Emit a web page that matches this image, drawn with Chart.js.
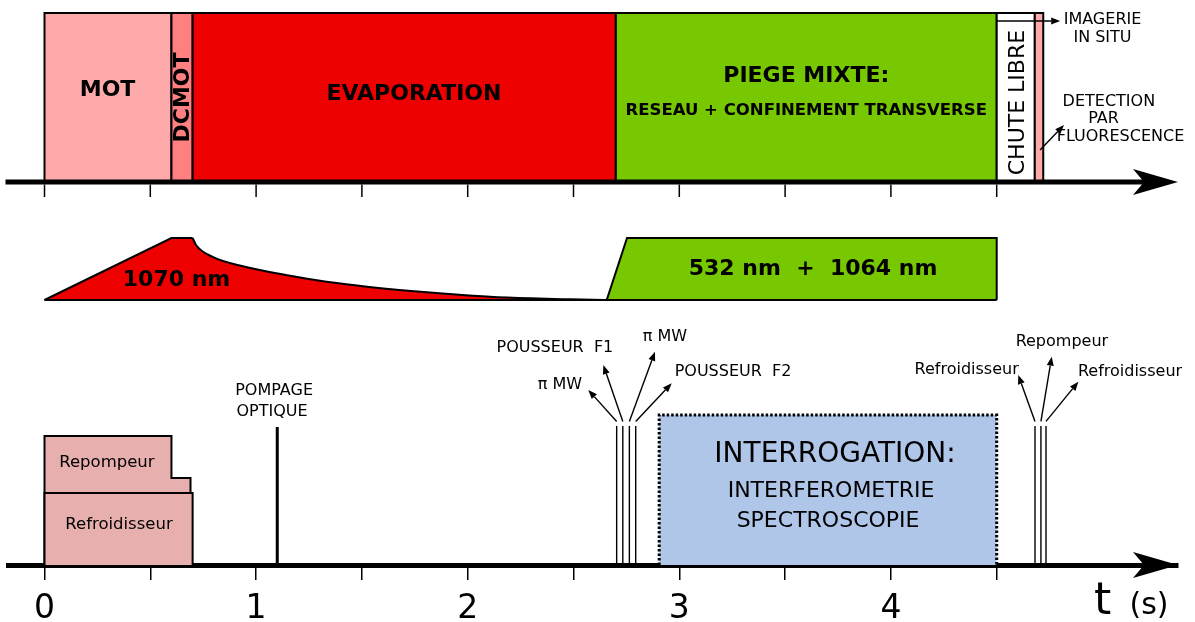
<!DOCTYPE html>
<html lang="fr">
<head>
<meta charset="UTF-8">
<title>Séquence expérimentale</title>
<style>
  body { margin: 0; background: #fff; }
  #wrap { width: 1195px; height: 622px; }
</style>
</head>
<body>
<div id="wrap"><canvas id="seq" width="1195" height="622"></canvas></div>
<script src="https://cdn.jsdelivr.net/npm/chart.js"></script>
<script>
// ---- données (temps en s) ----
const tickValues = [0, 0.5, 1, 1.5, 2, 2.5, 3, 3.5, 4, 4.5];
const tickLabels = ['0', '', '1', '', '2', '', '3', '', '4', ''];

// phases de la séquence
const phaseNames = ['MOT', 'DCMOT', 'EVAPORATION', 'PIEGE MIXTE', 'CHUTE LIBRE', 'DETECTION'];
const phaseStart = [0, 0.6, 0.7, 2.7, 4.5, 4.68];
const phaseEnd = [0.6, 0.7, 2.7, 4.5, 4.68, 4.72];

// puissance relative des lasers de piégeage
const rampT = [0, 0.6, 0.7];
const rampP = [0, 1, 1];
const evapT = [0.7, 0.716, 0.792, 0.947, 1.14, 1.333, 1.524, 1.718, 1.912, 2.105, 2.297, 2.488, 2.645];
const evapP = [1, 0.887, 0.699, 0.537, 0.403, 0.295, 0.215, 0.15, 0.097, 0.053, 0.027, 0.011, 0];
const mixT = [2.657, 2.753, 4.5, 4.5];
const mixP = [0, 1, 1, 0];

// faisceaux du MOT (niveaux relatifs)
const coolT = [0, 0.7];
const coolLevel = [0.558];
const repumpT = [0, 0.6, 0.69];
const repumpLevel = [1, 0.674];

// impulsions
const pumpT = 1.1;
const pulseLeftT = [2.704, 2.733, 2.764, 2.794];
const pulseLeftNames = ['π MW', 'POUSSEUR  F1', 'π MW', 'POUSSEUR  F2'];
const pulseRightT = [4.681, 4.709, 4.733];
const pulseRightNames = ['Refroidisseur', 'Repompeur', 'Refroidisseur'];
const interroT = [2.905, 4.5];

// ---- mise en page ----
const FONT = "'DejaVu Sans', sans-serif";
const H = 565; // axe du temps, bas de la zone de tracé
function band(zeroPx, onePx) {
  const k = zeroPx - onePx;
  return { min: (zeroPx - H) / k, max: zeroPx / k };
}
const phaseColors = ['#ffaaaa', '#ff8080', '#ee0000', '#77c800', '#ffffff', '#ffaaaa'];
const levels = { pulse: 1.078, pump: 1.07, interro: 1.163 };

// positions des textes et des flèches
const pulseLeftLabels = [[2.436, 1.395], [2.412, 1.682], [2.932, 1.77], [3.254, 1.496]];
const pulseLeftTips = [[2.570, 1.357], [2.641, 1.550], [2.885, 1.653], [2.964, 1.409]];
const pulseRightLabels = [[4.358, 1.512], [4.808, 1.731], [5.13, 1.496]];
const pulseRightTips = [[4.602, 1.473], [4.76, 1.615], [4.886, 1.421]];

const notes = [
  { text: 'MOT', t: 0.298, v: 0.54, row: 'yTop', size: 22, bold: true },
  { text: 'DCMOT', t: 0.655, v: 0.5, row: 'yTop', size: 22, bold: true, rot: true },
  { text: 'EVAPORATION', t: 1.746, v: 0.52, row: 'yTop', size: 22, bold: true },
  { text: 'PIEGE MIXTE:', t: 3.6, v: 0.627, row: 'yTop', size: 22, bold: true },
  { text: 'RESEAU + CONFINEMENT TRANSVERSE', t: 3.6, v: 0.42, row: 'yTop', size: 16.5, bold: true },
  { text: 'CHUTE LIBRE', t: 4.6, v: 0.47, row: 'yTop', size: 22, rot: true },
  { text: 'IMAGERIE', t: 5.0, v: 0.959, row: 'yTop', size: 16 },
  { text: 'IN SITU', t: 5.0, v: 0.852, row: 'yTop', size: 16 },
  { text: 'DETECTION', t: 5.03, v: 0.473, row: 'yTop', size: 16 },
  { text: 'PAR', t: 5.005, v: 0.373, row: 'yTop', size: 16 },
  { text: 'FLUORESCENCE', t: 5.085, v: 0.266, row: 'yTop', size: 16 },
  { text: '1070 nm', t: 0.624, v: 0.323, row: 'yMid', size: 22, bold: true },
  { text: '532 nm  +  1064 nm', t: 3.632, v: 0.5, row: 'yMid', size: 22, bold: true },
  { text: 'Repompeur', t: 0.295, v: 0.791, row: 'yBot', size: 16.5 },
  { text: 'Refroidisseur', t: 0.352, v: 0.31, row: 'yBot', size: 16.5 },
  { text: 'POMPAGE', t: 1.085, v: 1.349, row: 'yBot', size: 16 },
  { text: 'OPTIQUE', t: 1.075, v: 1.186, row: 'yBot', size: 16 },
  { text: 'INTERROGATION:', t: 3.736, v: 0.853, row: 'yBot', size: 28 },
  { text: 'INTERFEROMETRIE', t: 3.717, v: 0.574, row: 'yBot', size: 22 },
  { text: 'SPECTROSCOPIE', t: 3.703, v: 0.341, row: 'yBot', size: 22 },
  { text: 't', t: 5.0, v: -0.38, row: 'yBot', size: 44, base: 'alphabetic' },
  { text: '(s)', t: 5.22, v: -0.38, row: 'yBot', size: 30, base: 'alphabetic' }
];
pulseLeftNames.forEach((n, i) => notes.push({ text: n, t: pulseLeftLabels[i][0], v: pulseLeftLabels[i][1], row: 'yBot', size: 16 }));
pulseRightNames.forEach((n, i) => notes.push({ text: n, t: pulseRightLabels[i][0], v: pulseRightLabels[i][1], row: 'yBot', size: 16 }));

// ---- construction des jeux de données ----
const zip = (xs, ys) => xs.map((x, i) => ({ x: x, y: ys[i] }));
const rect = (a, b, h) => [{ x: a, y: 0 }, { x: a, y: h }, { x: b, y: h }, { x: b, y: 0 }];
function steps(ts, ls) {
  const p = [{ x: ts[0], y: 0 }];
  ls.forEach((l, i) => { p.push({ x: ts[i], y: l }, { x: ts[i + 1], y: l }); });
  p.push({ x: ts[ts.length - 1], y: 0 });
  return p;
}
function shape(data, yAxisID, fillColor, extra) {
  return Object.assign({
    type: 'line', data: data, xAxisID: 'x', yAxisID: yAxisID,
    borderColor: '#000', borderWidth: 2, backgroundColor: fillColor || 'transparent',
    fill: fillColor ? 'origin' : false, pointRadius: 0, tension: 0,
    borderJoinStyle: 'miter', borderCapStyle: 'butt'
  }, extra || {});
}

const datasets = [];
phaseNames.forEach((n, i) => datasets.push(shape(rect(phaseStart[i], phaseEnd[i], 1), 'yTop', phaseColors[i], { label: n })));
// la rampe déborde sur le premier point de la décroissance pour éviter un liseré blanc
datasets.push(shape(zip(rampT.concat(evapT[1]), rampP.concat(evapP[1])), 'yMid', '#ee0000', { label: '1070 nm', borderWidth: 0 }));
datasets.push(shape(zip(rampT, rampP), 'yMid', null));
datasets.push(shape(zip(evapT, evapP), 'yMid', '#ee0000', { cubicInterpolationMode: 'monotone' }));
datasets.push(shape(zip(mixT, mixP), 'yMid', '#77c800', { label: '532 + 1064 nm' }));
datasets.push(shape([{ x: rampT[0], y: 0 }, { x: mixT[mixT.length - 1], y: 0 }], 'yMid', null));
datasets.push(shape(steps(repumpT, repumpLevel), 'yBot', '#e8afaf', { label: 'Repompeur' }));
datasets.push(shape(steps(coolT, coolLevel), 'yBot', '#e8afaf', { label: 'Refroidisseur' }));
datasets.push(shape(rect(interroT[0], interroT[1], levels.interro), 'yBot', '#afc6e9', { borderWidth: 3, borderDash: [2.5, 2] }));
datasets.push(shape([{ x: pumpT, y: 0 }, { x: pumpT, y: levels.pump }], 'yBot', null, { borderWidth: 3 }));
pulseLeftT.concat(pulseRightT).forEach(t => datasets.push(shape([{ x: t, y: 0 }, { x: t, y: levels.pulse }], 'yBot', null, { borderWidth: 1.4 })));
datasets.forEach((d, i) => { d.order = datasets.length - i; });

// ---- dessin des annotations ----
function axisHead(ctx, x, y) {
  ctx.beginPath();
  ctx.moveTo(x, y);
  ctx.lineTo(x - 45, y - 13);
  ctx.lineTo(x - 34, y);
  ctx.lineTo(x - 45, y + 13);
  ctx.closePath();
  ctx.fill();
}
function arrow(ctx, x1, y1, x2, y2) {
  const a = Math.atan2(y2 - y1, x2 - x1), L = 9, W = 3.5;
  const bx = x2 - L * Math.cos(a), by = y2 - L * Math.sin(a);
  ctx.lineWidth = 1.4;
  ctx.beginPath(); ctx.moveTo(x1, y1); ctx.lineTo(bx, by); ctx.stroke();
  ctx.beginPath();
  ctx.moveTo(x2, y2);
  ctx.lineTo(bx + W * Math.sin(a), by - W * Math.cos(a));
  ctx.lineTo(bx - W * Math.sin(a), by + W * Math.cos(a));
  ctx.closePath(); ctx.fill();
}

const annotations = {
  id: 'annotations',
  afterDraw(chart) {
    const ctx = chart.ctx, area = chart.chartArea, sx = chart.scales.x;
    const px = t => sx.getPixelForValue(t);
    const py = (row, v) => chart.scales[row].getPixelForValue(v);
    ctx.save();
    ctx.strokeStyle = '#000';
    ctx.fillStyle = '#000';

    // axe du haut
    const yT = py('yTop', 0);
    ctx.lineWidth = 5;
    ctx.beginPath(); ctx.moveTo(area.left - 2.5, yT); ctx.lineTo(area.right - 20, yT); ctx.stroke();
    ctx.lineWidth = 1.5;
    tickValues.forEach(v => {
      ctx.beginPath(); ctx.moveTo(px(v), yT + 2.5); ctx.lineTo(px(v), yT + 15); ctx.stroke();
    });
    axisHead(ctx, area.right, yT);
    axisHead(ctx, area.right, area.bottom);

    // flèches
    arrow(ctx, px(phaseStart[4]), py('yTop', 0.953), px(4.8), py('yTop', 0.953));
    arrow(ctx, px(4.705), py('yTop', 0.189), px(4.818), py('yTop', 0.337));
    pulseLeftT.forEach((t, i) => arrow(ctx, px(t), py('yBot', levels.pulse + 0.035), px(pulseLeftTips[i][0]), py('yBot', pulseLeftTips[i][1])));
    pulseRightT.forEach((t, i) => arrow(ctx, px(t), py('yBot', levels.pulse + 0.035), px(pulseRightTips[i][0]), py('yBot', pulseRightTips[i][1])));

    // textes
    notes.forEach(n => {
      ctx.save();
      ctx.font = (n.bold ? 'bold ' : '') + n.size + 'px ' + FONT;
      ctx.textAlign = 'center';
      ctx.textBaseline = n.base || 'middle';
      ctx.translate(px(n.t), py(n.row, n.v));
      if (n.rot) ctx.rotate(-Math.PI / 2);
      ctx.fillText(n.text, 0, 0);
      ctx.restore();
    });
    ctx.restore();
  }
};

new Chart(document.getElementById('seq'), {
  type: 'line',
  data: { datasets: datasets },
  options: {
    responsive: false,
    animation: false,
    events: [],
    layout: { padding: { left: 8, right: 17, top: 0, bottom: 0 } },
    plugins: { legend: { display: false }, tooltip: { enabled: false } },
    scales: {
      x: {
        type: 'linear', position: 'bottom', min: -0.1725, max: 5.3568, z: 1,
        afterBuildTicks: s => { s.ticks = tickValues.map(v => ({ value: v })); },
        afterFit: s => { s.height = 622 - H; },
        grid: { drawOnChartArea: false, drawTicks: true, tickLength: 15, color: '#000', lineWidth: 1.5 },
        border: { display: true, color: '#000', width: 5 },
        ticks: {
          autoSkip: false, maxRotation: 0, padding: 10, color: '#000',
          font: { family: FONT, size: 33 },
          callback: (v, i) => tickLabels[i]
        }
      },
      yTop: Object.assign({ type: 'linear', display: false }, band(182, 13)),
      yMid: Object.assign({ type: 'linear', display: false }, band(300, 238)),
      yBot: Object.assign({ type: 'linear', display: false }, band(565, 436))
    }
  },
  plugins: [annotations]
});
</script>
</body>
</html>
